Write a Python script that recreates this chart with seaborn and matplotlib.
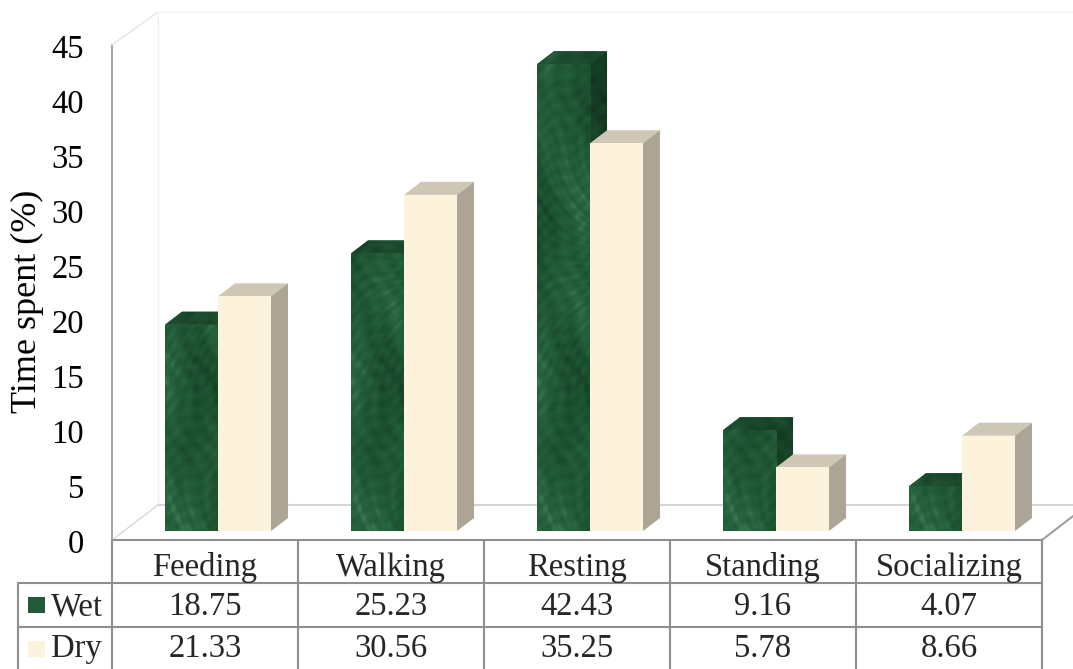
import numpy as np
import pandas as pd
import seaborn as sns
import matplotlib.pyplot as plt
import matplotlib.transforms as mtransforms
from matplotlib.patches import Polygon, Rectangle
from matplotlib.colors import LinearSegmentedColormap

# datos del gráfico
categories = ["Feeding", "Walking", "Resting", "Standing", "Socializing"]
wet = [18.75, 25.23, 42.43, 9.16, 4.07]
dry = [21.33, 30.56, 35.25, 5.78, 8.66]
seasons = ["Wet", "Dry"]
yticks = list(range(0, 50, 5))

colors = {"Wet": "#225a37", "Dry": "#fdf3dd"}

df = pd.DataFrame({
    "Activity": categories * 2,
    "Season": ["Wet"] * len(wet) + ["Dry"] * len(dry),
    "Time": wet + dry,
})

W, H = 1073, 669
FS = 23.5
sns.set_theme(style="white")
plt.rcParams['font.family'] = ['Liberation Serif', 'DejaVu Serif']

fig = plt.figure(figsize=(W / 100, H / 100), dpi=100)

# capa de fondo en pixeles: piso, pared y tabla
bg = fig.add_axes([0, 0, 1, 1], zorder=0)
bg.set_xlim(0, W)
bg.set_ylim(H, 0)
bg.axis("off")

ax_left, ax_right, ax_top, ax_bot = 112, 1042, 36, 531
ax = fig.add_axes([ax_left / W, 1 - ax_bot / H, (ax_right - ax_left) / W, (ax_bot - ax_top) / H], zorder=1)
ax.patch.set_visible(False)

sns.barplot(data=df, x="Activity", y="Time", hue="Season", hue_order=seasons,
            palette=colors, width=0.57, gap=0, saturation=1, legend=False,
            linewidth=0, ax=ax)

xlim = (-0.57, 4.43)
ylim = (0, 45)

# textura tipo mármol para las barras verdes (patrón determinista)
marble = LinearSegmentedColormap.from_list("marble", ["#153f25", "#1b4e2f", "#215936", "#286340", "#3a7a51"])
gx, gy = np.meshgrid(np.linspace(0, 3, 160), np.linspace(0, 22, 1200))
tex = (np.sin(1.3 * gx + 0.8 * np.sin(0.7 * gy) + 0.35 * gy)
       + 0.8 * np.sin(0.9 * gy + 1.5 * np.sin(1.2 * gx + 0.3 * gy))
       + 0.6 * np.sin(6.1 * gx + 3.3 * gy + 2 * np.sin(1.7 * gy))
       + 0.5 * np.sin(9.7 * gy - 4.1 * gx + 1.5 * np.cos(3.1 * gx))
       + 0.4 * np.sin(14.3 * gx * np.cos(0.4 * gy) + 7.9 * gy))

# efecto 3D: caras superior y lateral
ddx = 17 * (xlim[1] - xlim[0]) / (ax_right - ax_left)
ddy = 13 * (ylim[1] - ylim[0]) / (ax_bot - ax_top)
for p in list(ax.patches):
    x0, w, h = p.get_x(), p.get_width(), p.get_height()
    if h <= 0:
        continue
    rgb = np.array(p.get_facecolor()[:3])
    layer = 0 if rgb.mean() < 0.5 else 1
    z = 2 + 2 * layer
    p.set_zorder(z + 1)
    top = Polygon([(x0, h), (x0 + w, h), (x0 + w + ddx, h + ddy), (x0 + ddx, h + ddy)],
                  closed=True, fc=rgb * 0.82, ec="none", zorder=z, clip_on=False)
    side = Polygon([(x0 + w, 0), (x0 + w + ddx, ddy), (x0 + w + ddx, h + ddy), (x0 + w, h)],
                   closed=True, fc=rgb * 0.68, ec="none", zorder=z, clip_on=False)
    ax.add_patch(top)
    ax.add_patch(side)
    if layer == 0:
        im = ax.imshow(tex, cmap=marble, aspect="auto", origin="lower", interpolation="bilinear",
                       extent=(x0, x0 + w, 0, 45), zorder=z + 1.5)
        im.set_clip_path(p)
        for face, k in [(top, 0.85), (side, 0.75)]:
            im2 = ax.imshow(tex, cmap=marble, aspect="auto", origin="lower", interpolation="bilinear",
                            extent=(x0, x0 + w + ddx, 0, 45 + ddy), zorder=z + 0.5)
            im2.set_clip_path(face)
            shade = Polygon(face.get_xy(), closed=True, fc="black", alpha=1 - k, ec="none", zorder=z + 0.6)
            ax.add_patch(shade)

ax.set_xlim(*xlim)
ax.set_ylim(*ylim)
ax.set_xticks([])
ax.set_xlabel("")
ax.set_yticks(yticks)
ax.set_yticklabels([str(t) for t in yticks], fontsize=FS, color="black")
ax.tick_params(axis="y", length=0, pad=20)
off = mtransforms.ScaledTranslation(0, -10 / 100, fig.dpi_scale_trans)
for lab in ax.get_yticklabels():
    lab.set_transform(lab.get_transform() + off)
sns.despine(ax=ax, left=True, bottom=True)
ax.grid(False)

ax.set_ylabel("Time spent (%)", fontsize=26, color="black")
ax.yaxis.set_label_coords((44 - ax_left) / (ax_right - ax_left), (ax_bot - 301) / (ax_bot - ax_top))

# paredes y piso
grey = "#8f8f8f"
bg.plot([112, 112], [45, 540], color="#a6a6a6", lw=1.5)
bg.plot([112, 158], [45, 12], color="#e4e4e4", lw=1)
bg.plot([158, 158], [12, 505], color="#f0f0f0", lw=1)
bg.plot([158, 1090], [12, 12], color="#f4f4f4", lw=1)
bg.plot([158, 1090], [505, 505], color="#d4d4d4", lw=1.5)
bg.plot([112, 158], [540, 505], color="#d9d9d9", lw=1)
bg.plot([1042, 1090], [540, 503], color="#a0a0a0", lw=1.5)

# tabla de datos
col_w = (ax_right - ax_left) / len(categories)
rows_y = [540, 583, 627, 671]
for k in range(len(categories) + 1):
    xk = ax_left + k * col_w
    bg.plot([xk, xk], [540, 671], color=grey, lw=1.5, clip_on=False)
bg.plot([ax_left, ax_right], [540, 540], color=grey, lw=1.5)
for yk in rows_y[1:]:
    bg.plot([18, ax_right], [yk, yk], color=grey, lw=1.5, clip_on=False)
bg.plot([18, 18], [583, 671], color=grey, lw=1.5, clip_on=False)

for i, cat in enumerate(categories):
    cx = ax_left + (i + 0.5) * col_w
    bg.text(cx, 576, cat, ha="center", va="baseline", fontsize=FS)
    bg.text(cx, 615, f"{wet[i]:.2f}", ha="center", va="baseline", fontsize=FS)
    bg.text(cx, 657, f"{dry[i]:.2f}", ha="center", va="baseline", fontsize=FS)

for s, yb, ysq in [("Wet", 615, 597), ("Dry", 657, 641)]:
    bg.add_patch(Rectangle((28, ysq), 17, 16, fc=colors[s], ec="none"))
    bg.text(51, yb, s, ha="left", va="baseline", fontsize=FS)

fig.savefig("out.png", dpi=100)
